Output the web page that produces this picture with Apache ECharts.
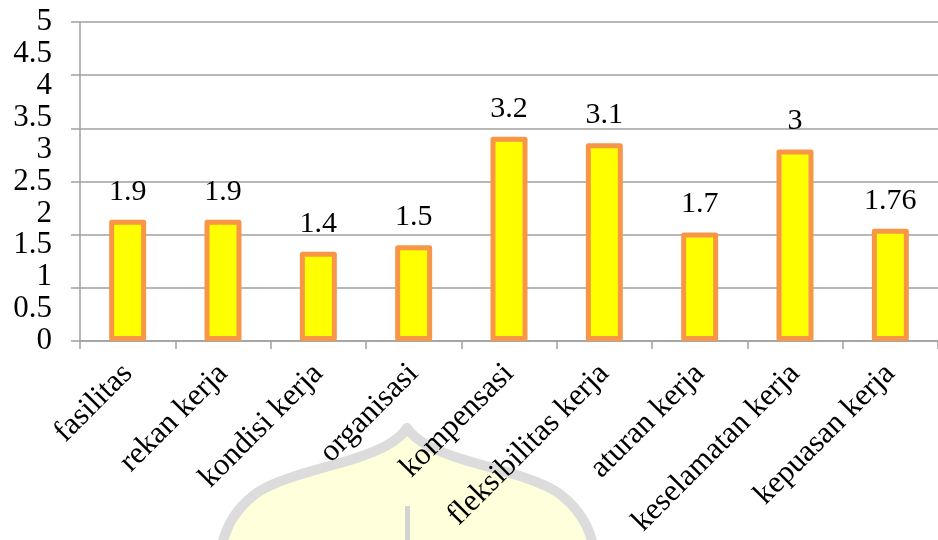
<!DOCTYPE html>
<html>
<head>
<meta charset="utf-8">
<script src="https://cdn.jsdelivr.net/npm/echarts@6/dist/echarts.min.js"></script>
<style>
html,body{margin:0;padding:0;background:#fff;}
#chart{width:938px;height:540px;}
</style>
</head>
<body>
<div id="chart"></div>
<script>
var categories = ['fasilitas','rekan kerja','kondisi kerja','organisasi','kompensasi','fleksibilitas kerja','aturan kerja','keselamatan kerja','kepuasan kerja'];
var values = [1.9, 1.9, 1.4, 1.5, 3.2, 3.1, 1.7, 3, 1.76];
var yMin = 0, yMax = 5, yLabelStep = 0.5, gridDivisions = 6;

// decorative watermark outline (background logo)
function bez(p0, p1, p2, p3, n) {
  var out = [];
  for (var i = 0; i <= n; i++) {
    var t = i / n, u = 1 - t;
    out.push([
      u*u*u*p0[0] + 3*u*u*t*p1[0] + 3*u*t*t*p2[0] + t*t*t*p3[0],
      u*u*u*p0[1] + 3*u*u*t*p1[1] + 3*u*t*t*p2[1] + t*t*t*p3[1]
    ]);
  }
  return out;
}
var domePts = [].concat(
  bez([407,428],[385,462],[300,466],[258,492],20),
  bez([258,492],[236,508],[224,528],[221,552],20),
  [[594,552]],
  bez([594,552],[591,528],[579,508],[557,492],20),
  bez([557,492],[515,466],[430,462],[407,428],20)
);

var chart = echarts.init(document.getElementById('chart'));
var font = '"Liberation Serif", "Times New Roman", serif';
var grey = '#a0a0a0';
chart.setOption({
  animation: false,
  backgroundColor: '#fff',
  graphic: [
    {
      type: 'polygon', z: -10,
      shape: { points: domePts },
      style: { fill: '#ffffdc', stroke: '#dcdcdc', lineWidth: 10, lineJoin: 'round' }
    },
    {
      type: 'rect', z: -9,
      shape: { x: 405, y: 506, width: 5, height: 40 },
      style: { fill: '#d3d3d3' }
    }
  ],
  grid: { left: 80, top: 22, bottom: 199, width: 866, containLabel: false },
  xAxis: {
    type: 'category',
    data: categories,
    axisLine: { lineStyle: { color: grey, width: 1.5 } },
    axisTick: { show: true, length: 8, lineStyle: { color: grey, width: 1.5 } },
    axisLabel: { rotate: 45, margin: 28, color: '#000', fontFamily: font, fontSize: 31, interval: 0 }
  },
  yAxis: [
    {
      type: 'value', min: yMin, max: yMax, interval: yLabelStep,
      axisLine: { show: true, lineStyle: { color: grey, width: 1.5 } },
      axisTick: { show: false },
      splitLine: { show: false },
      axisLabel: { margin: 28, color: '#000', fontFamily: font, fontSize: 31, padding: [6, 0, 0, 0] }
    },
    {
      type: 'value', min: yMin, max: yMax, interval: (yMax - yMin) / gridDivisions,
      position: 'left',
      axisLine: { show: false },
      axisTick: { show: true, length: 9, lineStyle: { color: grey, width: 1.5 } },
      splitLine: { show: true, lineStyle: { color: grey, width: 1.5 } },
      axisLabel: { show: false }
    }
  ],
  series: [{
    type: 'bar',
    data: values,
    yAxisIndex: 0,
    barWidth: 37,
    itemStyle: { color: '#ffff00', borderColor: '#f79646', borderWidth: 5, borderJoin: 'round' },
    label: { show: true, position: 'top', distance: 13, color: '#000', fontFamily: font, fontSize: 30 }
  }]
});
</script>
</body>
</html>
